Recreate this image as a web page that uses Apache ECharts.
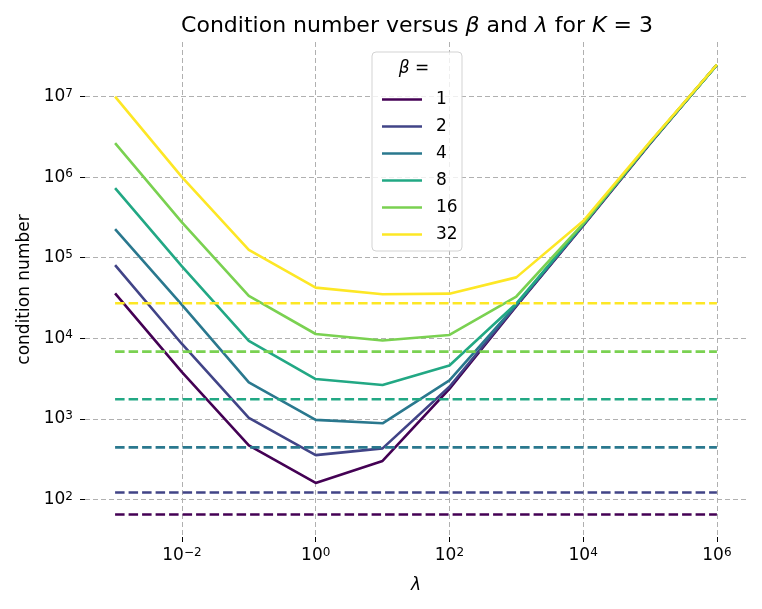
<!DOCTYPE html>
<html>
<head>
<meta charset="utf-8">
<script src="https://cdn.jsdelivr.net/npm/echarts@6/dist/echarts.min.js"></script>
<style>
	html, body { margin: 0; padding: 0; background: #fff; }
	#chart { width: 762px; height: 609px; }
</style>
</head>
<body>
<div id="chart"></div>
<script>
// lambda values on the x axis
var lambdas = [1e-3, 1e-2, 1e-1, 1, 10, 100, 1e3, 1e4, 1e5, 1e6];
// beta values, one curve each
var betas = ['1', '2', '4', '8', '16', '32'];
// condition number for each beta (solid lines)
var cond1 = [3.6e4, 3.8e3, 470, 160, 300, 2.35e3, 2.5e4, 2.5e5, 2.6e6, 2.48e7];
var cond2 = [8.1e4, 8.5e3, 1.03e3, 355, 430, 2.5e3, 2.55e4, 2.55e5, 2.65e6, 2.48e7];
var cond4 = [2.26e5, 2.6e4, 2.84e3, 970, 880, 3.0e3, 2.6e4, 2.55e5, 2.65e6, 2.48e7];
var cond8 = [7.3e5, 7.8e4, 9.3e3, 3.12e3, 2.63e3, 4.6e3, 2.7e4, 2.6e5, 2.68e6, 2.48e7];
var cond16 = [2.64e6, 2.75e5, 3.35e4, 1.13e4, 9.4e3, 1.1e4, 3.3e4, 2.65e5, 2.7e6, 2.48e7];
var cond32 = [1.0e7, 1.0e6, 1.25e5, 4.25e4, 3.52e4, 3.58e4, 5.7e4, 2.85e5, 2.75e6, 2.5e7];
// horizontal bound for each beta (dashed lines)
var bounds = [65, 122, 443, 1750, 6820, 27200];
// tick exponents (powers of ten)
var xTickExp = [-2, 0, 2, 4, 6];
var yTickExp = [2, 3, 4, 5, 6, 7];
// viridis colours
var colors = ['#440154', '#414487', '#2a788e', '#22a884', '#7ad151', '#fde725'];

var condList = [cond1, cond2, cond4, cond8, cond16, cond32];
var FONT = 'DejaVu Sans';

function lg(v) {
	return Math.log10(v);
}

// limits like matplotlib: 5% margin on the log range
function paddedRange(vals) {
	var lo = Math.min.apply(null, vals.map(lg));
	var hi = Math.max.apply(null, vals.map(lg));
	var m = (hi - lo) * 0.05;
	return [lo - m, hi + m];
}
var allY = [].concat.apply([], condList).concat(bounds);
var xr = paddedRange(lambdas);
var yr = paddedRange(allY);

// 10 with a superscript exponent
function powLabel(v) {
	var e = Math.round(v);
	var s = e < 0 ? '\u2212' + (-e) : '' + e;
	return '{b|10}{s|' + s + '}';
}
var richTick = {
	b: { fontFamily: FONT, fontSize: 17, color: '#000' },
	s: { fontFamily: FONT, fontSize: 12, color: '#000', padding: [0, 0, 6, 0] }
};

var series = [];
betas.forEach(function(b, i) {
	// solid curve
	series.push({
		name: b,
		type: 'line',
		symbol: 'none',
		z: 2,
		lineStyle: { color: colors[i], width: 2.6 },
		itemStyle: { color: colors[i] },
		data: lambdas.map(function(x, j) {
			return [lg(x), lg(condList[i][j])];
		})
	});
	// dashed bound
	series.push({
		name: 'bound ' + b,
		type: 'line',
		symbol: 'none',
		z: 2,
		lineStyle: { color: colors[i], width: 2.6, type: [9.5, 4] },
		data: [[lg(lambdas[0]), lg(bounds[i])],
				[lg(lambdas[lambdas.length - 1]), lg(bounds[i])]]
	});
});

var gridLine = {
	show: true,
	lineStyle: { color: '#b0b0b0', width: 1, type: [5, 3] }
};

var option = {
	animation: false,
	backgroundColor: '#fff',
	title: {
		text: 'Condition number versus {i|β} and {i|λ} for {i|K} = 3',
		left: 412,
		textAlign: 'center',
		top: 10,
		textStyle: {
			fontFamily: FONT, fontSize: 22, fontWeight: 'normal', color: '#000',
			rich: { i: { fontFamily: FONT, fontSize: 22, fontStyle: 'italic', color: '#000' } }
		}
	},
	grid: { left: 85, right: 15, top: 42, bottom: 72 },
	xAxis: {
		type: 'value',
		min: xr[0],
		max: xr[1],
		name: 'λ',
		nameLocation: 'middle',
		nameGap: 40,
		nameTextStyle: { fontFamily: FONT, fontSize: 17, fontStyle: 'italic', color: '#000' },
		axisLine: { show: false, onZero: false },
		axisTick: { show: true, customValues: xTickExp, length: 5, lineStyle: { color: '#000', width: 1 } },
		axisLabel: { customValues: xTickExp, margin: 10, fontSize: 17, formatter: powLabel, rich: richTick },
		splitLine: gridLine
	},
	yAxis: {
		type: 'value',
		min: yr[0],
		max: yr[1],
		name: 'condition number',
		nameLocation: 'middle',
		nameRotate: 90,
		nameGap: 52,
		nameTextStyle: { fontFamily: FONT, fontSize: 17, color: '#000' },
		axisLine: { show: false, onZero: false },
		axisTick: { show: true, customValues: yTickExp, length: 5, lineStyle: { color: '#000', width: 1 } },
		axisLabel: { customValues: yTickExp, margin: 12, fontSize: 17, formatter: powLabel, rich: richTick },
		splitLine: gridLine
	},
	legend: {
		data: betas,
		orient: 'vertical',
		left: 377,
		top: 85,
		z: 11,
		icon: 'rect',
		itemWidth: 40,
		itemHeight: 2.6,
		itemGap: 8,
		textStyle: { fontFamily: FONT, fontSize: 17, lineHeight: 19, color: '#000', padding: [0, 0, 0, 9] }
	},
	graphic: [{
		type: 'rect',
		z: 10,
		shape: { x: 372, y: 52, width: 90, height: 199, r: 4 },
		style: { fill: 'rgba(255,255,255,0.8)', stroke: '#d3d3d3', lineWidth: 1 }
	}, {
		type: 'text',
		z: 11,
		x: 414,
		y: 69,
		style: {
			text: 'β =',
			font: 'italic 17px "DejaVu Sans"',
			fill: '#000',
			align: 'center',
			verticalAlign: 'middle'
		}
	}],
	series: series
};

var myChart = echarts.init(document.getElementById('chart'));
myChart.setOption(option);
</script>
</body>
</html>
